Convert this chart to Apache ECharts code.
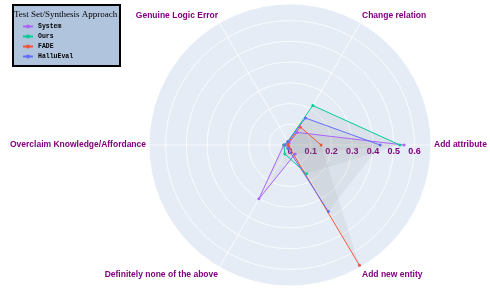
<!DOCTYPE html>
<html>
<head>
<meta charset="utf-8">
<script src="https://cdn.jsdelivr.net/npm/echarts@6/dist/echarts.min.js"></script>
<style>html,body{margin:0;padding:0;background:#fff}#c{width:490px;height:288px}</style>
</head>
<body>
<div id="c"></div>
<script>
const categories = ["Add attribute", "Change relation", "Genuine Logic Error", "Overclaim Knowledge/Affordance", "Definitely none of the above", "Add new entity"];
const seriesNames = ["System", "Ours", "FADE", "HalluEval"];
const systemValues = [0.55, 0.07, 0.01, 0.03, 0.30, 0.05];
const oursValues = [0.53, 0.22, 0.02, 0.03, 0.05, 0.16];
const fadeValues = [0.15, 0.10, 0.015, 0.01, 0.01, 0.67];
const halluEvalValues = [0.435, 0.15, 0.02, 0.025, 0.02, 0.37];
const radialTicks = [0, 0.1, 0.2, 0.3, 0.4, 0.5, 0.6];
const colors = ["#ab63fa", "#00cc96", "#ef553b", "#636efa"];

const allValues = [systemValues, oursValues, fadeValues, halluEvalValues];
const step = 360 / categories.length;
function toPolar(vals, close) {
  const pts = vals.map((v, i) => [v, i * step]);
  if (close) pts.push([vals[0], 360]);
  return pts;
}
const purple = '#800080';
const chart = echarts.init(document.getElementById('c'), null, {renderer: 'canvas'});

const fillSeries = seriesNames.map((name, k) => ({
  name: name + ' fill', type: 'line', coordinateSystem: 'polar',
  data: toPolar(allValues[k], true),
  symbol: 'none', silent: true,
  lineStyle: { width: 0, opacity: 0 },
  areaStyle: { color: 'rgba(128,128,128,0.14)' },
  z: 1
}));
const lineSeries = seriesNames.map((name, k) => ({
  name, type: 'line', coordinateSystem: 'polar',
  data: toPolar(allValues[k], false),
  symbol: 'circle', symbolSize: 3,
  lineStyle: { width: 1, color: colors[k] },
  itemStyle: { color: colors[k] },
  z: 2
}));

chart.setOption({
  animation: false,
  polar: { center: [290, 145], radius: 141 },
  angleAxis: {
    type: 'value', min: 0, max: 360, interval: step, startAngle: 0, clockwise: false,
    axisLine: { show: false },
    axisTick: { show: false },
    splitLine: { show: true, lineStyle: { color: 'rgba(255,255,255,0.8)', width: 1 } },
    axisLabel: {
      margin: 3, color: purple, fontWeight: 'bold', fontSize: 8.5, fontFamily: 'Liberation Sans',
      formatter: v => { const i = Math.round(v / step); return i < categories.length ? categories[i] : ''; }
    }
  },
  radiusAxis: {
    type: 'value', min: 0, max: 0.68, interval: 0.1,
    axisLine: { show: false },
    axisTick: { show: false },
    splitLine: { show: true, lineStyle: { color: 'rgba(255,255,255,0.8)', width: 1 } },
    axisLabel: {
      color: purple, fontWeight: 'bold', fontSize: 9, fontFamily: 'Liberation Sans',
      margin: -2, verticalAlign: 'top',
      formatter: v => { const t = radialTicks.find(x => Math.abs(x - v) < 1e-6); return t === undefined ? '' : String(t); }
    }
  },
  legend: {
    orient: 'vertical', left: 17, top: 18, itemWidth: 10, itemHeight: 5, itemGap: 3,
    data: seriesNames,
    textStyle: { fontFamily: 'Liberation Mono', fontSize: 6.5, fontWeight: 'bold', color: '#000' }
  },
  graphic: [
    { type: 'circle', z: -100, silent: true, shape: { cx: 290, cy: 145, r: 141 }, style: { fill: '#e5ecf6' } },
    { type: 'rect', z: -10, shape: { x: 13, y: 5, width: 107, height: 61 }, style: { fill: '#b0c4de', stroke: '#000', lineWidth: 2 } },
    { type: 'text', z: 10, x: 14, y: 15, style: { text: 'Test Set/Synthesis Approach', font: '9px "Liberation Serif"', fill: '#000', textVerticalAlign: 'middle' } }
  ],
  series: fillSeries.concat(lineSeries)
});
</script>
</body>
</html>
